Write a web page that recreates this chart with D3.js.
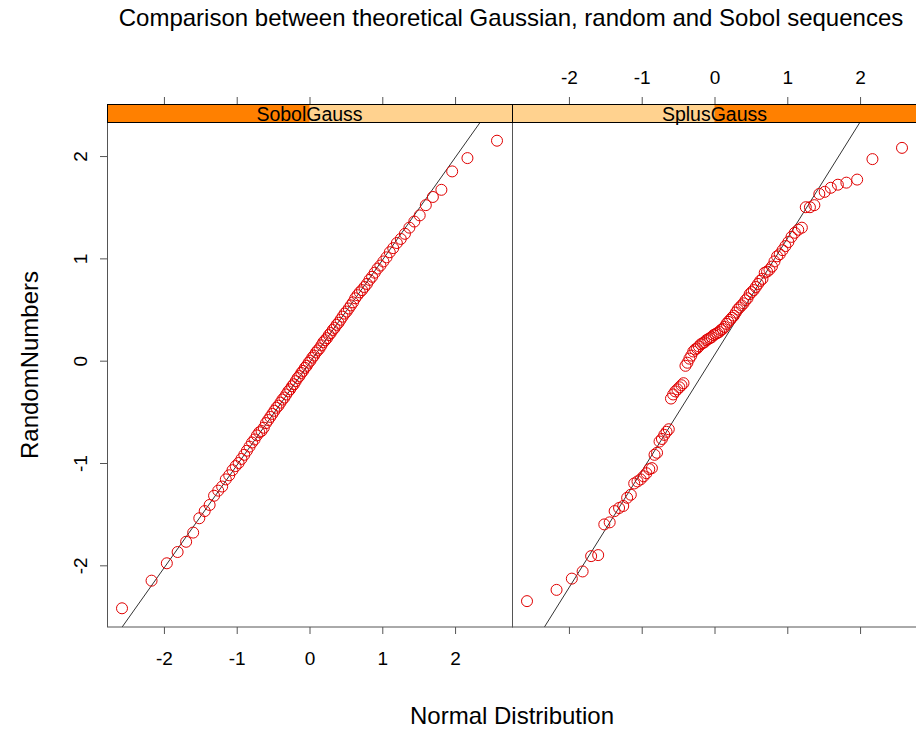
<!DOCTYPE html>
<html>
<head>
<meta charset="utf-8">
<script src="https://cdn.jsdelivr.net/npm/d3@7"></script>
<style>
  html, body { margin: 0; padding: 0; background: #ffffff; }
  svg { display: block; font-family: "Liberation Sans", Arial, sans-serif; }
</style>
</head>
<body>
<svg id="chart" width="916" height="729"></svg>
<script>
// Panel names (one per conditioning level)
const panelNames = ["SobolGauss", "SplusGauss"];

// Theoretical standard normal quantiles for 100 points
const theoretical = [
  -2.576, -2.170, -1.960, -1.812, -1.695, -1.598, -1.514, -1.440, -1.372, -1.311,
  -1.254, -1.200, -1.150, -1.103, -1.058, -1.015, -0.974, -0.935, -0.896, -0.860,
  -0.824, -0.789, -0.755, -0.722, -0.690, -0.659, -0.628, -0.598, -0.568, -0.539,
  -0.510, -0.482, -0.454, -0.426, -0.399, -0.372, -0.345, -0.319, -0.292, -0.266,
  -0.240, -0.215, -0.189, -0.164, -0.138, -0.113, -0.088, -0.063, -0.038, -0.013,
   0.013,  0.038,  0.063,  0.088,  0.113,  0.138,  0.164,  0.189,  0.215,  0.240,
   0.266,  0.292,  0.319,  0.345,  0.372,  0.399,  0.426,  0.454,  0.482,  0.510,
   0.539,  0.568,  0.598,  0.628,  0.659,  0.690,  0.722,  0.755,  0.789,  0.824,
   0.860,  0.896,  0.935,  0.974,  1.015,  1.058,  1.103,  1.150,  1.200,  1.254,
   1.311,  1.372,  1.440,  1.514,  1.598,  1.695,  1.812,  1.960,  2.170,  2.576
];

// Sorted sample values, Sobol-based Gaussian numbers
const sobolGauss = [
  -2.42, -2.15, -1.98, -1.87, -1.77, -1.68, -1.54, -1.47, -1.41, -1.32,
  -1.27, -1.23, -1.16, -1.12, -1.07, -1.03, -1.00, -0.96, -0.92, -0.88,
  -0.84, -0.80, -0.77, -0.73, -0.70, -0.687, -0.655, -0.61, -0.58, -0.55,
  -0.52, -0.49, -0.46, -0.44, -0.41, -0.38, -0.36, -0.33, -0.30, -0.28,
  -0.25, -0.23, -0.20, -0.17, -0.15, -0.12, -0.10, -0.07, -0.05, -0.02,
   0.00,  0.03,  0.05,  0.08,  0.10,  0.12,  0.15,  0.18,  0.20,  0.22,
   0.25,  0.27,  0.30,  0.32,  0.35,  0.37,  0.40,  0.43,  0.46,  0.48,
   0.51,  0.54,  0.57,  0.61,  0.64,  0.668, 0.69,  0.72,  0.75,  0.79,
   0.82,  0.86,  0.90,  0.93,  0.97,  1.01,  1.06,  1.10,  1.15,  1.19,
   1.24,  1.30,  1.36,  1.42,  1.52,  1.60,  1.67,  1.85,  1.98,  2.15
];

// Sorted sample values, pseudo-random Gaussian numbers
const splusGauss = [
  -2.35, -2.24, -2.13, -2.06, -1.91, -1.90, -1.60, -1.58, -1.47, -1.44,
  -1.42, -1.34, -1.31, -1.20, -1.18, -1.16, -1.13, -1.10, -1.06, -1.05,
  -0.92, -0.90, -0.79, -0.765, -0.725, -0.695, -0.67, -0.37, -0.33, -0.30,
  -0.28, -0.26, -0.24, -0.22, -0.05, -0.02,  0.02,  0.05,  0.09,  0.11,
   0.12,  0.14,  0.16,  0.17,  0.18,  0.20,  0.21,  0.22,  0.23,  0.25,
   0.26,  0.27,  0.28,  0.30,  0.31,  0.33,  0.36,  0.38,  0.40,  0.42,
   0.44,  0.47,  0.50,  0.52,  0.54,  0.56,  0.59,  0.61,  0.65,  0.67,
   0.69,  0.72,  0.75,  0.78,  0.80,  0.86,  0.87,  0.89,  0.92,  0.97,
   1.02,  1.04,  1.08,  1.12,  1.16,  1.21,  1.25,  1.28,  1.30,  1.50,
   1.50,  1.52,  1.63,  1.65,  1.69,  1.72,  1.74,  1.77,  1.97,  2.08
];

const panelValues = [sobolGauss, splusGauss];
const xTickValues = [-2, -1, 0, 1, 2];
const yTickValues = [-2, -1, 0, 1, 2];

const titleText = "Comparison between theoretical Gaussian, random and Sobol sequences";
const xLabelText = "Normal Distribution";
const yLabelText = "RandomNumbers";

// Layout
const plotLeft = 107, panelW = 405, panelTop = 122, panelH = 505, stripH = 18;
const tickLen = 7, tickFont = 19;
const borderCol = "#555555";
const stripLight = "#ffd28f", stripDark = "#ff8000";
const pointCol = "#e00000";

const svg = d3.select("#chart");

// Pad the data range by 4% on each side
function padded(ext, f = 0.04) {
  const d = (ext[1] - ext[0]) * f;
  return [ext[0] - d, ext[1] + d];
}

const x = d3.scaleLinear().domain(padded(d3.extent(theoretical))).range([0, panelW]);
const y = d3.scaleLinear()
  .domain(padded(d3.extent(sobolGauss.concat(splusGauss))))
  .range([panelH, 0]);

// Title and axis labels
svg.append("text")
  .attr("x", 511).attr("y", 26)
  .attr("text-anchor", "middle")
  .attr("font-size", 24)
  .attr("fill", "#000")
  .text(titleText);

svg.append("text")
  .attr("x", plotLeft + panelW).attr("y", 724)
  .attr("text-anchor", "middle")
  .attr("font-size", 24)
  .attr("fill", "#000")
  .text(xLabelText);

svg.append("text")
  .attr("transform", `translate(38,365) rotate(-90)`)
  .attr("text-anchor", "middle")
  .attr("font-size", 24)
  .attr("fill", "#000")
  .text(yLabelText);

svg.append("defs").append("clipPath").attr("id", "panelClip")
  .append("rect").attr("x", 0).attr("y", 0).attr("width", panelW).attr("height", panelH);

function styleAxis(g) {
  g.select(".domain").remove();
  g.selectAll(".tick line").attr("stroke", borderCol).attr("stroke-width", 1);
  g.selectAll(".tick text").attr("font-size", tickFont).attr("fill", "#000")
    .attr("font-family", "\"Liberation Sans\", Arial, sans-serif");
}

panelNames.forEach((name, i) => {
  const values = panelValues[i];
  const g = svg.append("g")
    .attr("transform", `translate(${plotLeft + i * panelW},${panelTop})`);

  // Reference line through the quartiles
  const q1 = d3.quantile(values, 0.25), q3 = d3.quantile(values, 0.75);
  const t1 = d3.quantile(theoretical, 0.25), t3 = d3.quantile(theoretical, 0.75);
  const slope = (q3 - q1) / (t3 - t1);
  const intercept = q1 - slope * t1;
  const [x0, x1] = x.domain();
  g.append("line")
    .attr("clip-path", "url(#panelClip)")
    .attr("x1", x(x0)).attr("y1", y(intercept + slope * x0))
    .attr("x2", x(x1)).attr("y2", y(intercept + slope * x1))
    .attr("stroke", "#333333").attr("stroke-width", 1);

  // Sample points
  g.append("g").selectAll("circle")
    .data(values)
    .join("circle")
    .attr("cx", (d, j) => x(theoretical[j]))
    .attr("cy", d => y(d))
    .attr("r", 5.5)
    .attr("fill", "none")
    .attr("stroke", pointCol)
    .attr("stroke-width", 1);

  // Panel border
  g.append("rect")
    .attr("x", 0.5).attr("y", 0.5)
    .attr("width", panelW).attr("height", panelH - 0.5)
    .attr("fill", "none").attr("stroke", borderCol).attr("stroke-width", 1);

  // Strip with level indicator
  const strip = g.append("g").attr("transform", `translate(0,${-stripH})`);
  strip.append("rect")
    .attr("x", 0).attr("y", 0).attr("width", panelW).attr("height", stripH)
    .attr("fill", stripLight);
  strip.append("rect")
    .attr("x", panelW * i / panelNames.length).attr("y", 0)
    .attr("width", panelW / panelNames.length).attr("height", stripH)
    .attr("fill", stripDark);
  strip.append("rect")
    .attr("x", 0.5).attr("y", 0.5).attr("width", panelW).attr("height", stripH)
    .attr("fill", "none").attr("stroke", "#000").attr("stroke-width", 1);
  strip.append("text")
    .attr("x", panelW / 2).attr("y", stripH - 1.5)
    .attr("text-anchor", "middle")
    .attr("font-size", 19.5)
    .attr("fill", "#000")
    .text(name);

  // Bottom axis: labels on the first panel only
  const bottom = g.append("g").attr("transform", `translate(0,${panelH})`)
    .call(d3.axisBottom(x).tickValues(xTickValues).tickSize(tickLen).tickPadding(18)
      .tickFormat(i === 0 ? d3.format("d") : () => ""));
  styleAxis(bottom);
  bottom.selectAll(".tick text").text(d => i === 0 ? String(d) : "");

  // Top axis: labels on the second panel only
  const top = g.append("g").attr("transform", `translate(0,${-stripH})`)
    .call(d3.axisTop(x).tickValues(xTickValues).tickSize(tickLen).tickPadding(13)
      .tickFormat(i === 1 ? d3.format("d") : () => ""));
  styleAxis(top);
  top.selectAll(".tick text").text(d => i === 1 ? String(d) : "");

  if (i === 0) {
    // Left axis with rotated labels
    const left = g.append("g")
      .call(d3.axisLeft(y).tickValues(yTickValues).tickSize(tickLen).tickFormat(d => String(d)));
    styleAxis(left);
    left.selectAll(".tick text")
      .attr("x", null).attr("dy", null)
      .attr("text-anchor", "middle")
      .attr("transform", "translate(-20,0) rotate(-90)");
  } else {
    const right = g.append("g").attr("transform", `translate(${panelW},0)`)
      .call(d3.axisRight(y).tickValues(yTickValues).tickSize(tickLen).tickFormat(() => ""));
    styleAxis(right);
  }
});
</script>
</body>
</html>
